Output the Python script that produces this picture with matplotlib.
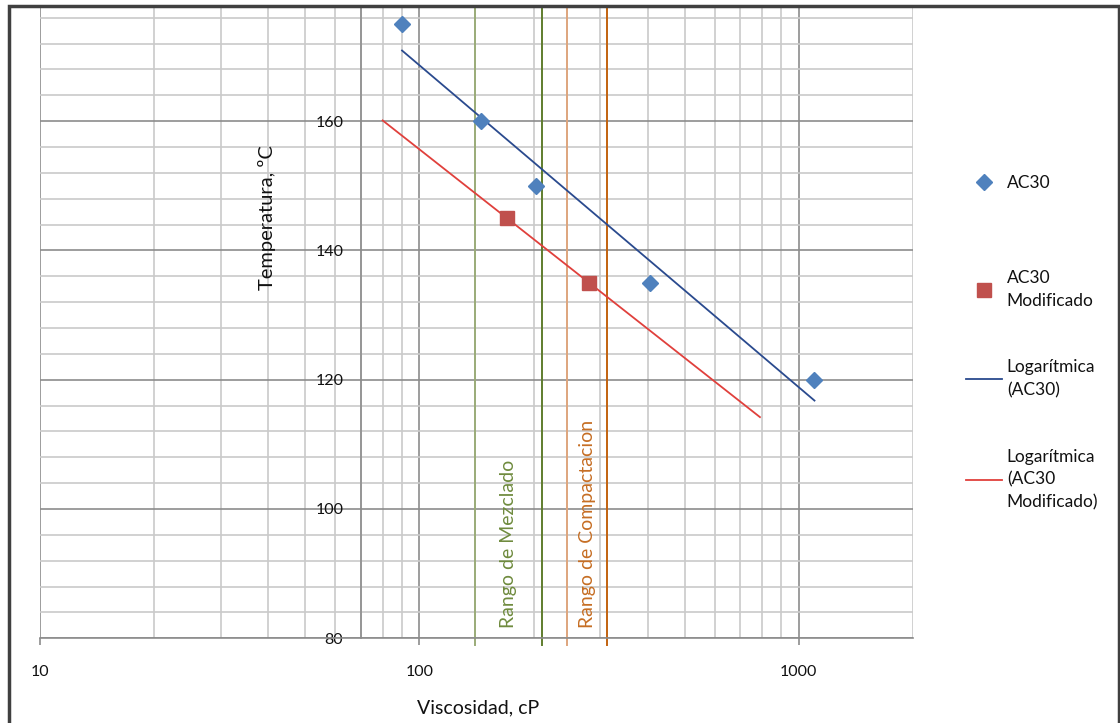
import numpy as np
import matplotlib
matplotlib.use("Agg")
import matplotlib.pyplot as plt
from matplotlib.ticker import FixedLocator, NullFormatter
from matplotlib.lines import Line2D
from matplotlib.patches import Rectangle

plt.rcParams['font.family'] = ['Lato', 'DejaVu Sans']

# ---------------- data ----------------
ac30_visc = [90, 145, 203, 405, 1100]
ac30_temp = [175, 160, 150, 135, 120]
mod_visc = [170, 280]
mod_temp = [145, 135]
mod_trend_range = [80, 790]          # forecast range of the modified trendline
mixing_range = [140, 210]            # Rango de Mezclado (cP)
compaction_range = [245, 313]        # Rango de Compactacion (cP)
x_major = [10, 100, 1000]
y_major = [80, 100, 120, 140, 160]

W, H = 1120, 723
fig = plt.figure(figsize=(W / 100, H / 100), dpi=100)

def fx(px):
    return px / W

def fy(py):
    return 1 - py / H

ax_left, ax_right, ax_top, ax_bottom = 40, 913, 7.5, 638.3
ax = fig.add_axes([fx(ax_left), fy(ax_bottom), fx(ax_right - ax_left), (ax_bottom - ax_top) / H])
ax.set_xscale('log')
ax.set_xlim(10, 2000)
ax.set_ylim(80, 80 + (ax_bottom - ax_top) / 6.465)

# grid
xminor = [v * d for d in (10, 100, 1000) for v in range(2, 10) if v * d <= 2000]
ax.xaxis.set_major_locator(FixedLocator(x_major))
ax.xaxis.set_minor_locator(FixedLocator(xminor))
ax.xaxis.set_minor_formatter(NullFormatter())
ax.set_xticklabels([str(v) for v in x_major])
ax.yaxis.set_major_locator(FixedLocator(y_major))
ax.yaxis.set_minor_locator(FixedLocator(list(range(84, 180, 4))))
ax.set_yticklabels([str(v) for v in y_major])
ax.grid(which='major', color='#8c8c8c', lw=1.2)
ax.grid(which='minor', color='#cacaca', lw=1.2)
ax.set_axisbelow(True)

for s in ('top', 'right'):
    ax.spines[s].set_visible(False)
ax.spines['left'].set_position(('data', 70))
ax.spines['left'].set_color('#8c8c8c')
ax.spines['left'].set_linewidth(1.2)
ax.spines['bottom'].set_color('#8c8c8c')
ax.spines['bottom'].set_linewidth(1.2)
ax.tick_params(axis='x', which='major', length=5, width=1.2, color='#8c8c8c',
               pad=14, labelsize=11.5, labelcolor='#111111')
ax.tick_params(axis='x', which='minor', length=0)
ax.tick_params(axis='y', which='both', length=0, pad=12.5, labelsize=11.5,
               labelcolor='#111111')

# range lines
ytop = ax.get_ylim()[1]
mix_colors = ['#9aab78', '#5f7d2e']
comp_colors = ['#dea57d', '#c2620f']
for xv, c in zip(mixing_range, mix_colors):
    ax.plot([xv, xv], [79.0, ytop], color=c, lw=1.4, clip_on=False, zorder=2)
for xv, c in zip(compaction_range, comp_colors):
    ax.plot([xv, xv], [79.0, ytop], color=c, lw=1.4, clip_on=False, zorder=2)

gm_mix = np.sqrt(mixing_range[0] * mixing_range[1])
gm_comp = np.sqrt(compaction_range[0] * compaction_range[1])
ax.text(gm_mix, 81.6, 'Rango de Mezclado', rotation=90, ha='center', va='bottom',
        color='#6f8b3e', fontsize=14)
ax.text(gm_comp, 81.6, 'Rango de Compactacion', rotation=90, ha='center', va='bottom',
        color='#c66e24', fontsize=14)

# trendlines (logarithmic fits)
a1, b1 = np.polyfit(np.log(ac30_visc), ac30_temp, 1)
xs1 = np.geomspace(min(ac30_visc), max(ac30_visc), 200)
a2, b2 = np.polyfit(np.log(mod_visc), mod_temp, 1)
xs2 = np.geomspace(mod_trend_range[0], mod_trend_range[1], 200)
ax.plot(xs1, a1 * np.log(xs1) + b1, color='#2a4a8e', lw=1.3, zorder=3)
ax.plot(xs2, a2 * np.log(xs2) + b2, color='#e0403c', lw=1.3, zorder=3)

# markers
ax.plot(ac30_visc, ac30_temp, 'D', color='#4f81bd', ms=8, mec='#4f81bd', ls='none', zorder=4)
ax.plot(mod_visc, mod_temp, 's', color='#c0504d', ms=10, mec='#c0504d', ls='none', zorder=4)

# axis titles
fig.text(fx(478), fy(708), 'Viscosidad, cP', ha='center', va='center', fontsize=14,
         color='#111111')
fig.text(fx(267), fy(218), 'Temperatura, ºC', ha='center', va='center', rotation=90,
         fontsize=14.5, color='#111111')

# legends
h1 = Line2D([], [], marker='D', color='#4f81bd', ls='none', ms=8)
h2 = Line2D([], [], marker='s', color='#c0504d', ls='none', ms=9.5)
h3 = Line2D([], [], color='#2a4a8e', lw=1.3)
h4 = Line2D([], [], color='#e0403c', lw=1.3)
common = dict(frameon=False, borderpad=0, borderaxespad=0, handlelength=2.1,
              handletextpad=0.25, fontsize=12.5, loc='center left')
leg1 = fig.legend([h1], ['AC30'], bbox_to_anchor=(fx(966), fy(183)), **common)
leg2 = fig.legend([h2, h3, h4],
                  ['AC30\nModificado', 'Logarítmica\n(AC30)', 'Logarítmica\n(AC30\nModificado)'],
                  bbox_to_anchor=(fx(966), fy(390.5)), labelspacing=2.9, **common)
for lg in (leg1, leg2):
    for t in lg.get_texts():
        t.set_linespacing(1.52)
        t.set_color('#111111')

# chart border
fig.add_artist(Rectangle((fx(8.5), -0.05), fx(1118.5 - 8.5), fy(6.5) + 0.05,
                         transform=fig.transFigure, fill=False, ec='#404040', lw=2.5))

fig.savefig('out.png', dpi=100)
